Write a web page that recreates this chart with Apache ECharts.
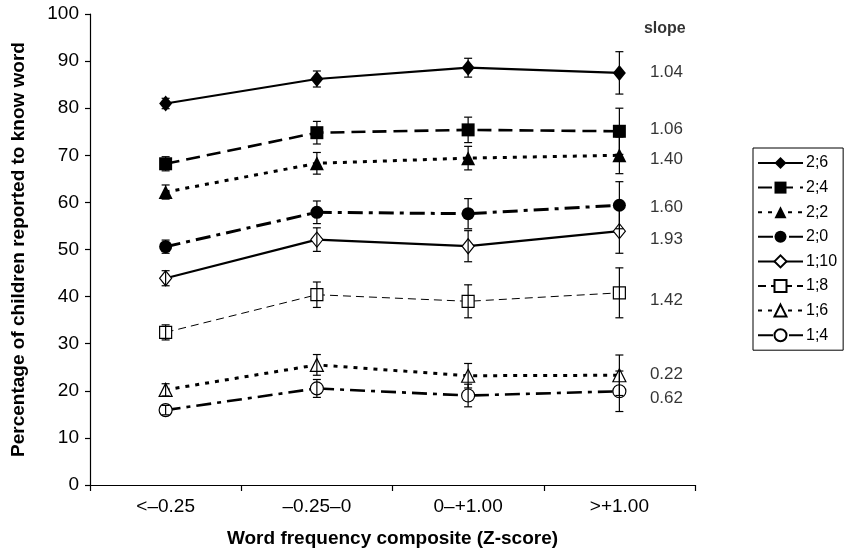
<!DOCTYPE html>
<html>
<head>
<meta charset="utf-8">
<script src="https://cdn.jsdelivr.net/npm/echarts@6/dist/echarts.min.js"></script>
<style>html,body{margin:0;padding:0;background:#fff}#c{width:846px;height:555px}</style>
</head>
<body>
<div id="c"></div>
<script>
const categories = ['<\u20130.25', '\u20130.25\u20130', '0\u2013+1.00', '>+1.00'];
const yTicks = [0, 10, 20, 30, 40, 50, 60, 70, 80, 90, 100];

const names = ['2;6', '2;4', '2;2', '2;0', '1;10', '1;8', '1;6', '1;4'];

const v26 = [81.0, 86.2, 88.6, 87.5];
const v24 = [68.2, 74.8, 75.4, 75.1];
const v22 = [62.2, 68.3, 69.4, 70.0];
const v20 = [50.6, 57.9, 57.6, 59.4];
const v110 = [43.9, 52.1, 50.7, 53.9];
const v18 = [32.4, 40.4, 39.0, 40.8];
const v16 = [20.2, 25.5, 23.2, 23.3];
const v14 = [15.9, 20.5, 19.0, 19.9];

const e26 = [1.1, 1.7, 2.0, 4.5];
const e24 = [1.5, 2.4, 2.7, 4.9];
const e22 = [1.5, 2.3, 2.5, 3.9];
const e20 = [1.4, 2.4, 3.2, 5.0];
const e110 = [1.6, 2.5, 3.3, 4.7];
const e18 = [1.6, 2.7, 3.5, 5.3];
const e16 = [1.3, 2.2, 2.6, 4.3];
const e14 = [1.0, 1.9, 2.4, 4.3];

const slopeHeader = 'slope';
const slopeHeaderY = 96.8;
const slopeLabels = ['1.04', '1.06', '1.40', '1.60', '1.93', '1.42', '0.22', '0.62'];
const slopeY = [87.7, 75.5, 69.1, 58.9, 52.1, 39.2, 23.4, 18.3];

const values = [v26, v24, v22, v20, v110, v18, v16, v14];
const errors = [e26, e24, e22, e20, e110, e18, e16, e14];

const FONT = "'Liberation Sans', Arial, Helvetica, sans-serif";

const styles = [
  { symbol: 'diamond', size: [13, 16], fill: '#000', type: 'solid', width: 2.2 },
  { symbol: 'rect', size: 13, fill: '#000', type: [14, 7], width: 2.6 },
  { symbol: 'triangle', size: 14, fill: '#000', type: [4, 6], width: 3 },
  { symbol: 'circle', size: 13, fill: '#000', type: [15, 6, 4, 6], width: 3 },
  { symbol: 'diamond', size: [12, 15], fill: '#fff', type: 'solid', width: 2.2 },
  { symbol: 'rect', size: 12, fill: '#fff', type: [8, 5], width: 1 },
  { symbol: 'triangle', size: 13, fill: '#fff', type: [4, 6], width: 3 },
  { symbol: 'circle', size: 13, fill: '#fff', type: [15, 6, 4, 6], width: 2.6 }
];

const lineSeries = names.map((n, i) => ({
  name: n,
  type: 'line',
  data: values[i],
  symbol: styles[i].symbol,
  symbolSize: styles[i].size,
  showAllSymbol: true,
  z: 3,
  lineStyle: { color: '#000', width: styles[i].width, type: styles[i].type, cap: 'butt' },
  itemStyle: { color: styles[i].fill, borderColor: '#000', borderWidth: styles[i].fill === '#fff' ? 1.2 : 0 },
  emphasis: { disabled: true }
}));

const errData = [];
values.forEach((arr, i) => arr.forEach((v, j) => errData.push([j, v, errors[i][j]])));

const errSeries = {
  type: 'custom',
  z: 4,
  silent: true,
  data: errData,
  encode: { x: 0, y: 1 },
  renderItem: function (params, api) {
    const x = api.value(0), v = api.value(1), e = api.value(2);
    const t = api.coord([x, v + e]);
    const b = api.coord([x, v - e]);
    const w = 4;
    const st = { stroke: '#000', lineWidth: 1.2 };
    return {
      type: 'group',
      children: [
        { type: 'line', shape: { x1: t[0], y1: t[1], x2: b[0], y2: b[1] }, style: st },
        { type: 'line', shape: { x1: t[0] - w, y1: t[1], x2: t[0] + w, y2: t[1] }, style: st },
        { type: 'line', shape: { x1: b[0] - w, y1: b[1], x2: b[0] + w, y2: b[1] }, style: st }
      ]
    };
  }
};

const slopeData = [{
  value: [3, slopeHeaderY],
  label: { formatter: slopeHeader, fontWeight: 'bold', fontSize: 16, distance: 24 }
}].concat(slopeLabels.map((s, i) => ({ value: [3, slopeY[i]], label: { formatter: s } })));

const slopeSeries = {
  type: 'scatter',
  data: slopeData,
  symbolSize: 1,
  itemStyle: { color: 'rgba(0,0,0,0)' },
  silent: true,
  z: 5,
  labelLayout: { hideOverlap: false },
  label: {
    show: true, position: 'right', distance: 30,
    color: '#000', fontSize: 17, fontFamily: FONT
  }
};

const chart = echarts.init(document.getElementById('c'), null, { renderer: 'canvas' });
chart.setOption({
  animation: false,
  backgroundColor: '#fff',
  textStyle: { fontFamily: FONT, color: '#000' },
  grid: { left: 90, right: 151, top: 14, bottom: 70, containLabel: false },
  legend: {
    data: names,
    orient: 'vertical',
    left: 753, top: 148,
    itemWidth: 45, itemHeight: 15, itemGap: 8.6,
    padding: [7, 6, 7, 4],
    borderColor: '#000', borderWidth: 1,
    textStyle: { fontSize: 16, lineHeight: 16, fontFamily: FONT, color: '#000', padding: [0, 0, 0, -2] },
    selectedMode: false
  },
  xAxis: {
    type: 'category',
    data: categories,
    boundaryGap: true,
    axisLine: { lineStyle: { color: '#000', width: 1.2 } },
    axisTick: { show: true, length: 6, alignWithLabel: false, lineStyle: { color: '#000', width: 1.2 } },
    axisLabel: { color: '#000', fontSize: 19, fontFamily: FONT, margin: 12 },
    splitLine: { show: false },
    name: 'Word frequency composite (Z-score)',
    nameLocation: 'middle',
    nameGap: 44,
    nameTextStyle: { fontSize: 19, fontWeight: 'bold', color: '#000', fontFamily: FONT }
  },
  yAxis: {
    type: 'value',
    min: yTicks[0], max: yTicks[yTicks.length - 1], interval: yTicks[1] - yTicks[0],
    axisLine: { show: true, lineStyle: { color: '#000', width: 1.2 } },
    axisTick: { show: true, length: 5, inside: false, lineStyle: { color: '#000', width: 1.2 } },
    axisLabel: { color: '#000', fontSize: 19, fontFamily: FONT, margin: 11 },
    splitLine: { show: false },
    name: 'Percentage of children reported to know word',
    nameLocation: 'middle',
    nameGap: 62,
    nameTextStyle: { fontSize: 19, fontWeight: 'bold', color: '#000', fontFamily: FONT }
  },
  series: lineSeries.concat([errSeries, slopeSeries])
});
</script>
</body>
</html>
